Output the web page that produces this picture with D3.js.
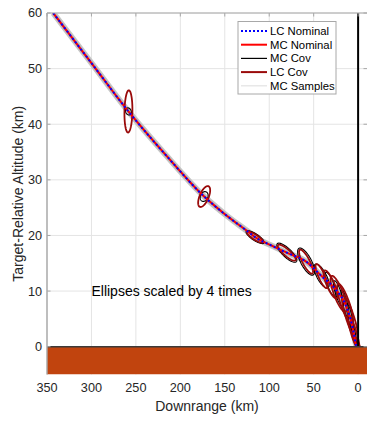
<!DOCTYPE html>
<html>
<head>
<meta charset="utf-8">
<script src="https://cdn.jsdelivr.net/npm/d3@7"></script>
<style>
  body { margin: 0; background: #fff; }
  text { font-family: "Liberation Sans", Arial, sans-serif; fill: #262626; }
</style>
</head>
<body>
<svg id="chart" width="367" height="424"></svg>
<script>
// DATA
// nominal trajectory (downrange km, altitude km)
const trajDownrange = [343, 300, 258.4, 216, 173.2, 147.4, 121.5, 115.9, 99, 80.2, 58.5, 41.1, 25.9, 14.6, 9, 5.1, 2.2, 1];
const trajAltitude = [60, 51, 42.3, 34.4, 27.0, 23.5, 20.4, 19.7, 18.3, 16.9, 15.3, 12.7, 10.4, 7.7, 5.2, 2.6, 0.3, 0];

// covariance stations (1-sigma, km)
const ellDownrange = [258.4, 173.2, 115.9, 80.2, 58.5, 41.1, 31, 22, 14.6, 9, 5.1, 2];
const ellAltitude = [42.3, 27.0, 19.7, 16.9, 15.3, 12.7, 11.2, 9.5, 7.7, 5.2, 2.6, 0.8];
const lcSigX = [1.12, 1.69, 2.25, 2.53, 1.97, 1.69, 1.97, 2.25, 2.25, 2.25, 1.69, 1.12];
const lcSigY = [0.95, 0.47, 0.25, 0.36, 0.54, 0.54, 0.63, 0.81, 0.9, 0.99, 0.81, 0.36];
const lcRho = [-0.1, -0.6, 0.85, 0.85, 0.82, 0.82, 0.8, 0.8, 0.82, 0.85, 0.88, 0.9];
const mcSigX = [0.84, 1.12, 2.53, 2.81, 2.39, 2.11, 1.55, 1.41, 1.12, 0.98, 0.84, 0.56];
const mcSigY = [0.16, 0.22, 0.29, 0.43, 0.61, 0.54, 0.54, 0.59, 0.63, 0.63, 0.54, 0.23];
const mcRho = [0.2, -0.2, 0.8, 0.8, 0.72, 0.72, 0.78, 0.8, 0.8, 0.8, 0.85, 0.85];
const ellScale = 4;

const xTicks = [350, 300, 250, 200, 150, 100, 50, 0];
const yTicks = [0, 10, 20, 30, 40, 50, 60];
const legendLabels = ["LC Nominal", "MC Nominal", "MC Cov", "LC Cov", "MC Samples"];

// CANVAS SETUP
const svg = d3.select("#chart");
const margin = { top: 13, right: 0, bottom: 49.5, left: 47 },
  width = 367 - margin.left - margin.right,
  height = 424 - margin.top - margin.bottom;

const x = d3.scaleLinear().domain([350, -10]).range([margin.left, margin.left + width]);
const y = d3.scaleLinear().domain([-5, 60]).range([margin.top + height, margin.top]);

svg.append("defs").append("clipPath").attr("id", "clip")
  .append("rect")
  .attr("x", margin.left).attr("y", margin.top)
  .attr("width", width).attr("height", height);

// grid
const grid = svg.append("g");
grid.selectAll(".gx").data(xTicks).join("line")
  .attr("x1", (d) => x(d)).attr("x2", (d) => x(d))
  .attr("y1", margin.top).attr("y2", margin.top + height)
  .attr("stroke", "#e4e4e4");
grid.selectAll(".gy").data(yTicks).join("line")
  .attr("x1", margin.left).attr("x2", margin.left + width)
  .attr("y1", (d) => y(d)).attr("y2", (d) => y(d))
  .attr("stroke", "#e4e4e4");

const g = svg.append("g").attr("clip-path", "url(#clip)");

const traj = trajDownrange.map((d, i) => [d, trajAltitude[i]]);
const line = d3.line().x((d) => x(d[0])).y((d) => y(d[1])).curve(d3.curveMonotoneX);

// MC samples band
g.append("path").datum(traj).attr("d", line)
  .attr("fill", "none").attr("stroke", "#c6c6c6").attr("stroke-width", 6);
g.append("path").datum(traj).attr("d", line)
  .attr("fill", "none").attr("stroke", "#b4b4b4").attr("stroke-width", 3.5);

// covariance ellipses
const ellipse = (cx, cy, sx, sy, rho) => {
  const pts = d3.range(0, 73).map((k) => {
    const t = (k / 72) * 2 * Math.PI;
    const u = Math.cos(t), v = Math.sin(t);
    const dx = sx * u;
    const dy = rho * sy * u + sy * Math.sqrt(1 - rho * rho) * v;
    return [cx + ellScale * dx, cy + ellScale * dy];
  });
  return d3.line().x((d) => x(d[0])).y((d) => y(d[1]))(pts);
};

g.selectAll(".mc").data(ellDownrange).join("path")
  .attr("d", (d, i) => ellipse(d, ellAltitude[i], mcSigX[i], mcSigY[i], mcRho[i]))
  .attr("fill", "none").attr("stroke", "#000").attr("stroke-width", 1.1);
g.selectAll(".lc").data(ellDownrange).join("path")
  .attr("d", (d, i) => ellipse(d, ellAltitude[i], lcSigX[i], lcSigY[i], lcRho[i]))
  .attr("fill", "none").attr("stroke", "#9a0a0a").attr("stroke-width", 1.8);

// nominal lines
g.append("path").datum(traj).attr("d", line)
  .attr("fill", "none").attr("stroke", "#ff0000").attr("stroke-width", 2);
g.append("path").datum(traj).attr("d", line)
  .attr("fill", "none").attr("stroke", "#0000ff").attr("stroke-width", 2)
  .attr("stroke-dasharray", "2,2.5");

// target line
g.append("line")
  .attr("x1", x(0)).attr("x2", x(0))
  .attr("y1", y(0)).attr("y2", y(60))
  .attr("stroke", "#000").attr("stroke-width", 2);

// ground
g.append("rect")
  .attr("x", margin.left).attr("y", y(0))
  .attr("width", width).attr("height", y(-5) - y(0))
  .attr("fill", "#c1440e");
g.append("line")
  .attr("x1", margin.left).attr("x2", margin.left + width)
  .attr("y1", y(0)).attr("y2", y(0))
  .attr("stroke", "#3d3a38").attr("stroke-width", 1.6);

// axes box + ticks
const ax = svg.append("g");
ax.append("line").attr("x1", margin.left).attr("x2", margin.left)
  .attr("y1", margin.top).attr("y2", margin.top + height)
  .attr("stroke", "#a8a8a8").attr("stroke-width", 1.4);
ax.append("line").attr("x1", margin.left).attr("x2", margin.left + width)
  .attr("y1", margin.top).attr("y2", margin.top)
  .attr("stroke", "#a8a8a8").attr("stroke-width", 1.2);
ax.selectAll(".tt").data(xTicks).join("line")
  .attr("x1", (d) => x(d)).attr("x2", (d) => x(d))
  .attr("y1", margin.top).attr("y2", margin.top + 3.5)
  .attr("stroke", "#a8a8a8");
ax.selectAll(".tl").data(yTicks).join("line")
  .attr("x1", margin.left).attr("x2", margin.left + 3.5)
  .attr("y1", (d) => y(d)).attr("y2", (d) => y(d))
  .attr("stroke", "#a8a8a8");
ax.selectAll(".tr").data(yTicks).join("line")
  .attr("x1", margin.left + width - 3.5).attr("x2", margin.left + width)
  .attr("y1", (d) => y(d)).attr("y2", (d) => y(d))
  .attr("stroke", "#a8a8a8");

ax.selectAll(".xl").data(xTicks).join("text")
  .attr("x", (d) => x(d)).attr("y", y(-5) + 17.5)
  .attr("text-anchor", "middle").attr("font-size", 12.7)
  .text((d) => d);
ax.selectAll(".yl").data(yTicks).join("text")
  .attr("x", margin.left - 5).attr("y", (d) => y(d))
  .attr("dy", "0.35em")
  .attr("text-anchor", "end").attr("font-size", 12.7)
  .text((d) => d);

svg.append("text")
  .attr("x", margin.left + width / 2).attr("y", 411)
  .attr("text-anchor", "middle").attr("font-size", 14)
  .text("Downrange (km)");
svg.append("text")
  .attr("transform", `translate(23,${margin.top + height / 2}) rotate(-90)`)
  .attr("text-anchor", "middle").attr("font-size", 14)
  .text("Target-Relative Altitude (km)");

svg.append("text")
  .attr("x", x(300)).attr("y", y(10)).attr("dy", "0.35em")
  .attr("font-size", 14)
  .style("fill", "#000")
  .text("Ellipses scaled by 4 times");

// LEGEND
const lg = svg.append("g").attr("transform", "translate(238,21.5)");
lg.append("rect").attr("x", 0).attr("y", 0).attr("width", 98).attr("height", 72.5)
  .attr("fill", "#fff").attr("stroke", "#a8a8a8");
const legendStyle = [
  { c: "#0000ff", w: 2, dash: "2,2" },
  { c: "#ff0000", w: 2, dash: null },
  { c: "#000", w: 1.2, dash: null },
  { c: "#9a0a0a", w: 2, dash: null },
  { c: "#e2e2e2", w: 1.2, dash: null },
];
const item = lg.selectAll(".item").data(legendLabels).join("g")
  .attr("transform", (d, i) => `translate(0,${9.5 + i * 13.7})`);
item.append("line").attr("x1", 3).attr("x2", 29)
  .attr("stroke", (d, i) => legendStyle[i].c)
  .attr("stroke-width", (d, i) => legendStyle[i].w)
  .attr("stroke-dasharray", (d, i) => legendStyle[i].dash);
item.append("text").attr("x", 32).attr("dy", "0.35em")
  .attr("font-size", 11.3).style("fill", "#000")
  .text((d) => d);
</script>
</body>
</html>
